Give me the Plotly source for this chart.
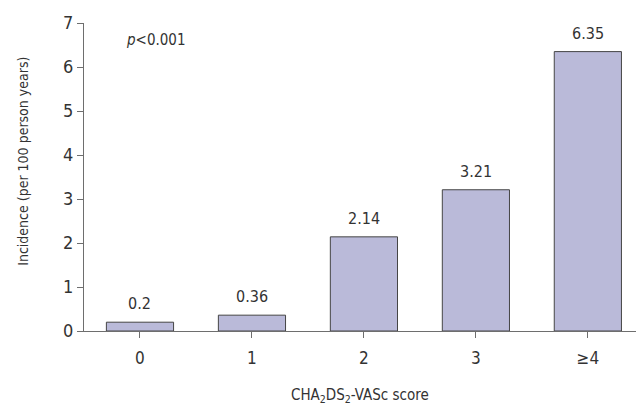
import plotly.graph_objects as go

# CHA2DS2-VASc score groups and incidence per 100 person-years
scores = ["0", "1", "2", "3", "≥4"]
incidence = [0.2, 0.36, 2.14, 3.21, 6.35]
value_labels = ["0.2", "0.36", "2.14", "3.21", "6.35"]
y_ticks = [0, 1, 2, 3, 4, 5, 6, 7]

FONT = "DejaVu Sans Condensed, Liberation Sans Narrow, Roboto, sans-serif"
TEXT = "#333333"
AXIS = "#6e6e6e"

x_pos = list(range(len(scores)))

fig = go.Figure(
    go.Bar(
        x=x_pos,
        y=incidence,
        width=0.6,
        marker=dict(color="#babad9", line=dict(color="#454545", width=1)),
        showlegend=False,
        hoverinfo="x+y",
    )
)

# value labels above each bar
annotations = [
    dict(
        x=xv, y=yv, xref="x", yref="y", text=lbl, showarrow=False,
        xanchor="center", yanchor="bottom", yshift=7,
        font=dict(family=FONT, size=16, color=TEXT),
    )
    for xv, yv, lbl in zip(x_pos, incidence, value_labels)
]

annotations += [
    dict(
        x=-0.14, y=6.62, xref="x", yref="y",
        text="<i>p</i><0.001", showarrow=False,
        xanchor="left", yanchor="middle",
        font=dict(family=FONT, size=15, color=TEXT),
    ),
    dict(
        x=0.5, y=-0.208, xref="paper", yref="paper",
        text="CHA<sub>2</sub>DS<sub>2</sub>-VASc score", showarrow=False,
        xanchor="center", yanchor="middle",
        font=dict(family=FONT, size=15, color=TEXT),
    ),
    dict(
        x=-0.112, y=0.55, xref="paper", yref="paper",
        text="Incidence (per 100 person years)", showarrow=False,
        textangle=-90, xanchor="center", yanchor="middle",
        font=dict(family=FONT, size=14, color=TEXT),
    ),
]

fig.update_layout(
    width=636,
    height=406,
    margin=dict(l=84, r=0, t=23, b=75),
    paper_bgcolor="white",
    plot_bgcolor="white",
    font=dict(family=FONT, size=17, color=TEXT),
    xaxis=dict(
        range=[-0.5, 4.43],
        tickmode="array",
        tickvals=x_pos,
        ticktext=scores,
        ticks="outside",
        ticklen=6,
        tickcolor=AXIS,
        ticklabelstandoff=6,
        showline=True,
        linecolor=AXIS,
        linewidth=1,
        showgrid=False,
        zeroline=False,
        tickfont=dict(size=17),
    ),
    yaxis=dict(
        range=[0, 7],
        tickmode="array",
        tickvals=y_ticks,
        ticks="outside",
        ticklen=6,
        tickcolor=AXIS,
        showline=True,
        linecolor=AXIS,
        linewidth=1,
        showgrid=False,
        zeroline=False,
        tickfont=dict(size=18),
    ),
    annotations=annotations,
)

fig.write_html("out.html")
